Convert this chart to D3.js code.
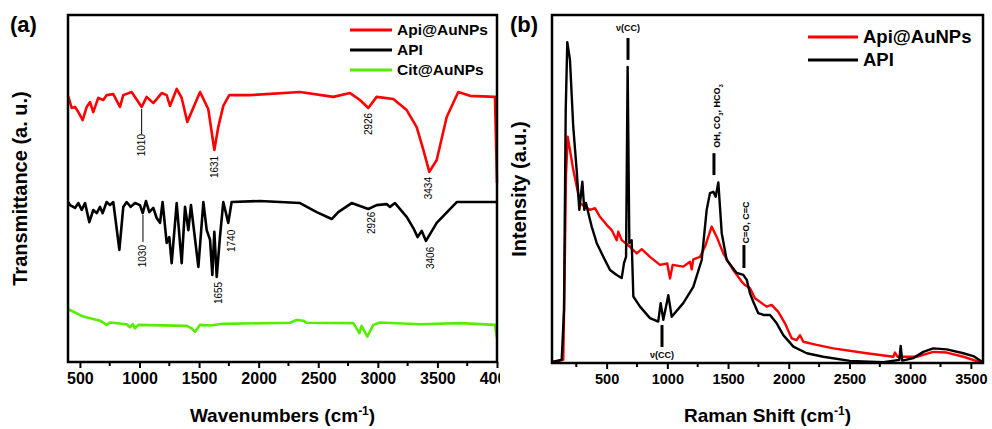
<!DOCTYPE html>
<html>
<head>
<meta charset="utf-8">
<script src="https://cdnjs.cloudflare.com/ajax/libs/d3/7.8.5/d3.min.js"></script>
<style>
  body { margin: 0; background: #fff; }
  svg text { font-family: Arial, "Liberation Sans", sans-serif; }
</style>
</head>
<body>
<svg id="chart" width="992" height="429"></svg>
<script>
// ---- panel (a) FTIR data : [wavenumber, transmittance a.u.] ----
var ftirApiAu = [[403,76.5],[431,73.2],[459,73.5],[487,72.0],[523,69.7],[557,73.5],[585,74.9],[612,72.0],[654,76.1],[696,75.5],[724,76.9],[780,77.2],[836,73.5],[864,76.9],[934,77.8],[1018,73.5],[1060,76.4],[1116,74.6],[1186,77.5],[1228,76.9],[1256,73.8],[1312,78.7],[1354,76.1],[1401,69.2],[1508,77.8],[1577,72.9],[1628,61.1],[1661,67.7],[1703,73.8],[1753,76.9],[1927,76.9],[2347,77.8],[2626,76.4],[2767,77.5],[2850,75.5],[2920,73.2],[2990,76.4],[3130,75.8],[3242,72.6],[3326,67.7],[3382,61.1],[3432,54.8],[3494,58.2],[3578,70.6],[3675,77.8],[3773,76.7],[3983,76.4],[4000,51.6]];
var ftirApi = [[403,46.1],[417,45.2],[459,44.4],[487,45.8],[515,43.8],[543,45.8],[579,40.3],[612,43.8],[641,42.9],[669,44.7],[691,42.9],[724,46.1],[752,45.2],[780,46.1],[831,32.3],[864,44.7],[892,46.1],[926,44.7],[962,45.8],[1004,45.2],[1027,42.9],[1054,46.4],[1082,43.2],[1116,44.4],[1144,41.5],[1172,40.1],[1194,46.1],[1228,34.3],[1250,36.0],[1270,28.5],[1312,45.8],[1354,28.5],[1382,44.7],[1410,38.0],[1432,45.2],[1494,27.4],[1536,46.1],[1564,38.0],[1592,35.2],[1611,25.1],[1628,37.5],[1648,24.5],[1675,36.0],[1703,46.1],[1745,40.1],[1773,46.1],[2011,46.4],[2347,45.8],[2487,43.2],[2613,41.2],[2668,43.2],[2780,45.8],[2920,44.1],[2990,45.2],[3074,45.5],[3102,44.7],[3144,45.8],[3242,41.8],[3298,38.6],[3334,36.0],[3368,37.8],[3404,34.9],[3494,40.1],[3662,46.1],[3983,46.1],[4000,46.1]];
var ftirCitAu = [[403,15.2],[528,13.1],[669,11.9],[724,10.7],[752,11.4],[892,10.9],[920,10.0],[943,10.9],[962,9.7],[990,10.7],[1396,10.4],[1438,9.7],[1466,8.7],[1508,10.7],[1592,10.5],[1703,11.0],[2263,11.3],[2319,12.1],[2375,11.9],[2403,11.3],[2794,11.2],[2845,8.3],[2864,10.4],[2912,7.3],[2962,10.7],[3018,11.4],[3354,10.9],[3689,11.2],[3983,10.7],[4000,6.8]];
var ftirTicks = [500,1000,1500,2000,2500,3000,3500,4000];
// peak labels : wavenumber, label centre, leader line (from, to) or null
var ftirLabels = [
  {wn:1018, text:"1010", y:62.5, line:[72.9,65.7]},
  {wn:1633, text:"1631", y:56.2, line:null},
  {wn:2920, text:"2926", y:68.6, line:null},
  {wn:3429, text:"3434", y:50.1, line:null},
  {wn:1029, text:"1030", y:30.5, line:[42.4,34.6]},
  {wn:1774, text:"1740", y:34.9, line:null},
  {wn:1667, text:"1655", y:19.9, line:null},
  {wn:2948, text:"2926", y:40.1, line:null},
  {wn:3438, text:"3406", y:30.0, line:null}
];

// ---- panel (b) Raman data : [raman shift, intensity a.u.] ----
var ramanApiAu = [[50,0.3],[143,0.9],[154,24.8],[165,53.5],[179,65.0],[198,61.2],[225,55.5],[248,51.7],[281,45.9],[322,44.9],[363,44.0],[404,44.5],[445,42.0],[500,39.7],[542,38.2],[583,35.3],[596,37.7],[624,35.3],[692,33.4],[748,31.5],[789,32.7],[857,30.5],[939,28.2],[999,28.6],[1022,24.3],[1044,28.2],[1131,27.7],[1187,29.1],[1201,26.9],[1214,29.8],[1269,30.5],[1310,33.4],[1365,39.2],[1406,36.3],[1461,31.5],[1543,26.7],[1612,23.4],[1639,22.4],[1681,21.5],[1722,18.6],[1777,17.2],[1818,16.2],[1859,16.7],[1914,14.7],[1969,11.4],[2024,7.1],[2065,6.6],[2093,8.0],[2120,6.1],[2230,5.2],[2367,4.2],[2642,2.8],[2861,1.8],[2875,3.0],[2896,1.8],[3054,1.8],[3190,3.2],[3301,3.0],[3438,1.8],[3589,0.1]];
var ramanApi = [[50,0.3],[130,0.9],[149,15.2],[163,72.7],[176,92.2],[198,87.1],[225,67.9],[253,55.5],[275,44.0],[300,52.1],[316,44.0],[330,46.0],[349,43.1],[377,39.2],[418,34.5],[473,30.5],[528,26.7],[583,25.3],[624,24.4],[643,28.7],[660,30.5],[673,85.1],[687,34.5],[706,35.3],[720,19.1],[775,16.2],[857,12.9],[925,11.9],[945,17.2],[967,12.4],[1008,19.5],[1036,13.3],[1131,17.2],[1214,21.9],[1283,29.6],[1324,44.0],[1351,48.8],[1379,49.2],[1398,47.8],[1420,51.9],[1448,37.3],[1489,29.6],[1571,25.9],[1626,25.3],[1654,23.9],[1681,20.0],[1708,17.6],[1749,14.3],[1791,13.8],[1846,13.8],[1901,11.4],[1955,8.0],[2038,4.7],[2148,2.8],[2285,1.8],[2504,0.6],[2779,0.2],[2911,0.9],[2922,4.9],[2935,0.7],[3026,1.4],[3108,3.2],[3190,4.2],[3301,3.9],[3438,2.8],[3520,2.0],[3589,0.4]];
var ramanTicks = [500,1000,1500,2000,2500,3000,3500];

var svg = d3.select("#chart");

// panel (a) was cropped at its right side in the original figure
svg.append("clipPath").attr("id", "clipA").append("rect")
  .attr("x", 0).attr("y", 0).attr("width", 500).attr("height", 429);

function drawPanel(cfg) {
  var x = d3.scaleLinear().domain(cfg.xDomain).range([cfg.left, cfg.right]);
  var y = d3.scaleLinear().domain([0, 100]).range([cfg.bottom, cfg.top]);
  var g = svg.append("g");
  if (cfg.clip) g.attr("clip-path", "url(#" + cfg.clip + ")");

  // minor ticks between the labelled ones
  var minorTicks = d3.range(250, cfg.xDomain[1], 500).filter(function(d){ return d > cfg.xDomain[0]; });
  g.selectAll(".minor").data(minorTicks).enter().append("line")
    .attr("x1", function(d){ return x(d); }).attr("x2", function(d){ return x(d); })
    .attr("y1", cfg.bottom).attr("y2", cfg.bottom + 4)
    .attr("stroke", "#000").attr("stroke-width", 2);

  var axis = g.append("g").attr("transform", "translate(0," + cfg.bottom + ")")
    .call(d3.axisBottom(x).tickValues(cfg.ticks).tickFormat(d3.format("d"))
      .tickSize(6).tickSizeOuter(0).tickPadding(5));
  axis.select(".domain").remove();
  axis.selectAll("line").attr("stroke-width", 2);
  axis.selectAll("text").attr("font-size", cfg.tickFont).attr("font-weight", "bold").attr("fill", "#000");

  // curves
  var line = d3.line().x(function(d){ return x(d[0]); }).y(function(d){ return y(d[1]); });
  cfg.series.forEach(function(s) {
    g.append("path").datum(s.data).attr("d", line)
      .attr("fill", "none").attr("stroke", s.color).attr("stroke-width", s.width)
      .attr("stroke-linejoin", "round");
  });

  // frame
  g.append("rect").attr("x", cfg.left).attr("y", cfg.top)
    .attr("width", cfg.right - cfg.left).attr("height", cfg.bottom - cfg.top)
    .attr("fill", "none").attr("stroke", "#000").attr("stroke-width", 2.5);

  // axis titles
  var xt = g.append("text").attr("x", (cfg.left + cfg.right) / 2).attr("y", 422)
    .attr("text-anchor", "middle").attr("font-size", 19).attr("font-weight", "bold");
  xt.append("tspan").text(cfg.xTitle + " (cm");
  xt.append("tspan").attr("dy", -7).attr("font-size", 12).text("-1");
  xt.append("tspan").attr("dy", 7).text(")");

  g.append("text").attr("transform", "translate(" + cfg.yTitleX + "," + (cfg.top + cfg.bottom) / 2 + ") rotate(-90)")
    .attr("text-anchor", "middle").attr("dy", "0.35em")
    .attr("font-size", 20).attr("font-weight", "bold").text(cfg.yTitle);

  g.append("text").attr("x", cfg.tagX).attr("y", 32)
    .attr("font-size", 22).attr("font-weight", "bold").text(cfg.tag);

  // legend
  cfg.series.forEach(function(s, i) {
    var ly = cfg.legend.y + i * cfg.legend.step;
    g.append("line").attr("x1", cfg.legend.x).attr("x2", cfg.legend.x + cfg.legend.len)
      .attr("y1", ly).attr("y2", ly).attr("stroke", s.color).attr("stroke-width", 3);
    g.append("text").attr("x", cfg.legend.x + cfg.legend.len + 5).attr("y", ly).attr("dy", "0.35em")
      .attr("font-size", cfg.legend.font).attr("font-weight", "bold").text(s.name);
  });

  return {x: x, y: y, g: g};
}

// (a) FTIR
var pa = drawPanel({
  left: 68, right: 497, top: 15, bottom: 362, clip: "clipA",
  xDomain: [400, 4000], ticks: ftirTicks, tickFont: 16,
  xTitle: "Wavenumbers", yTitle: "Transmittance (a. u.)", yTitleX: 20,
  tag: "(a)", tagX: 10,
  series: [
    {name: "Api@AuNPs", data: ftirApiAu, color: "#ff0000", width: 2.6},
    {name: "API", data: ftirApi, color: "#000000", width: 2.6},
    {name: "Cit@AuNPs", data: ftirCitAu, color: "#55ee00", width: 2.6}
  ],
  legend: {x: 350, y: 30, step: 20, len: 42, font: 15.5}
});

ftirLabels.forEach(function(d) {
  var cx = pa.x(d.wn);
  if (d.line) {
    pa.g.append("line").attr("x1", cx).attr("x2", cx)
      .attr("y1", pa.y(d.line[0])).attr("y2", pa.y(d.line[1]))
      .attr("stroke", "#000").attr("stroke-width", 1);
  }
  pa.g.append("text").attr("transform", "translate(" + cx + "," + pa.y(d.y) + ") rotate(-90)")
    .attr("text-anchor", "middle").attr("dy", "0.35em").attr("font-size", 10).text(d.text);
});

// (b) Raman
var pb = drawPanel({
  left: 552, right: 983, top: 15, bottom: 363,
  xDomain: [50, 3600], ticks: ramanTicks, tickFont: 14.5,
  xTitle: "Raman Shift", yTitle: "Intensity (a.u.)", yTitleX: 519,
  tag: "(b)", tagX: 510,
  series: [
    {name: "Api@AuNPs", data: ramanApiAu, color: "#ff0000", width: 2.4},
    {name: "API", data: ramanApi, color: "#000000", width: 2.4}
  ],
  legend: {x: 808, y: 37, step: 23, len: 50, font: 18.5}
});

// band markers
function bandLine(p, wn, from, to) {
  p.g.append("line").attr("x1", p.x(wn)).attr("x2", p.x(wn))
    .attr("y1", p.y(from)).attr("y2", p.y(to)).attr("stroke", "#000").attr("stroke-width", 3);
}
bandLine(pb, 676, 93.4, 87.1);
pb.g.append("text").attr("x", pb.x(676)).attr("y", pb.y(96.3)).attr("dy", "0.35em")
  .attr("text-anchor", "middle").attr("font-size", 9).attr("font-weight", "bold").text("ν(CC)");

bandLine(pb, 956, 10.9, 4.6);
pb.g.append("text").attr("x", pb.x(956)).attr("y", pb.y(2.3)).attr("dy", "0.35em")
  .attr("text-anchor", "middle").attr("font-size", 9).attr("font-weight", "bold").text("ν(CC)");

bandLine(pb, 1384, 60.3, 54.0);
var oh = pb.g.append("text").attr("transform", "translate(" + pb.x(1407) + "," + pb.y(71.0) + ") rotate(-90)")
  .attr("text-anchor", "middle").attr("dy", "0.35em").attr("font-size", 9).attr("font-weight", "bold");
oh.append("tspan").text("OH, CO");
oh.append("tspan").attr("dy", 3).attr("font-size", 6).text("3");
oh.append("tspan").attr("dy", -3).text(", HCO");
oh.append("tspan").attr("dy", 3).attr("font-size", 6).text("3");

bandLine(pb, 1631, 33.9, 27.3);
pb.g.append("text").attr("transform", "translate(" + pb.x(1648) + "," + pb.y(40.4) + ") rotate(-90)")
  .attr("text-anchor", "middle").attr("dy", "0.35em").attr("font-size", 9).attr("font-weight", "bold").text("C=O, C=C");
</script>
</body>
</html>
